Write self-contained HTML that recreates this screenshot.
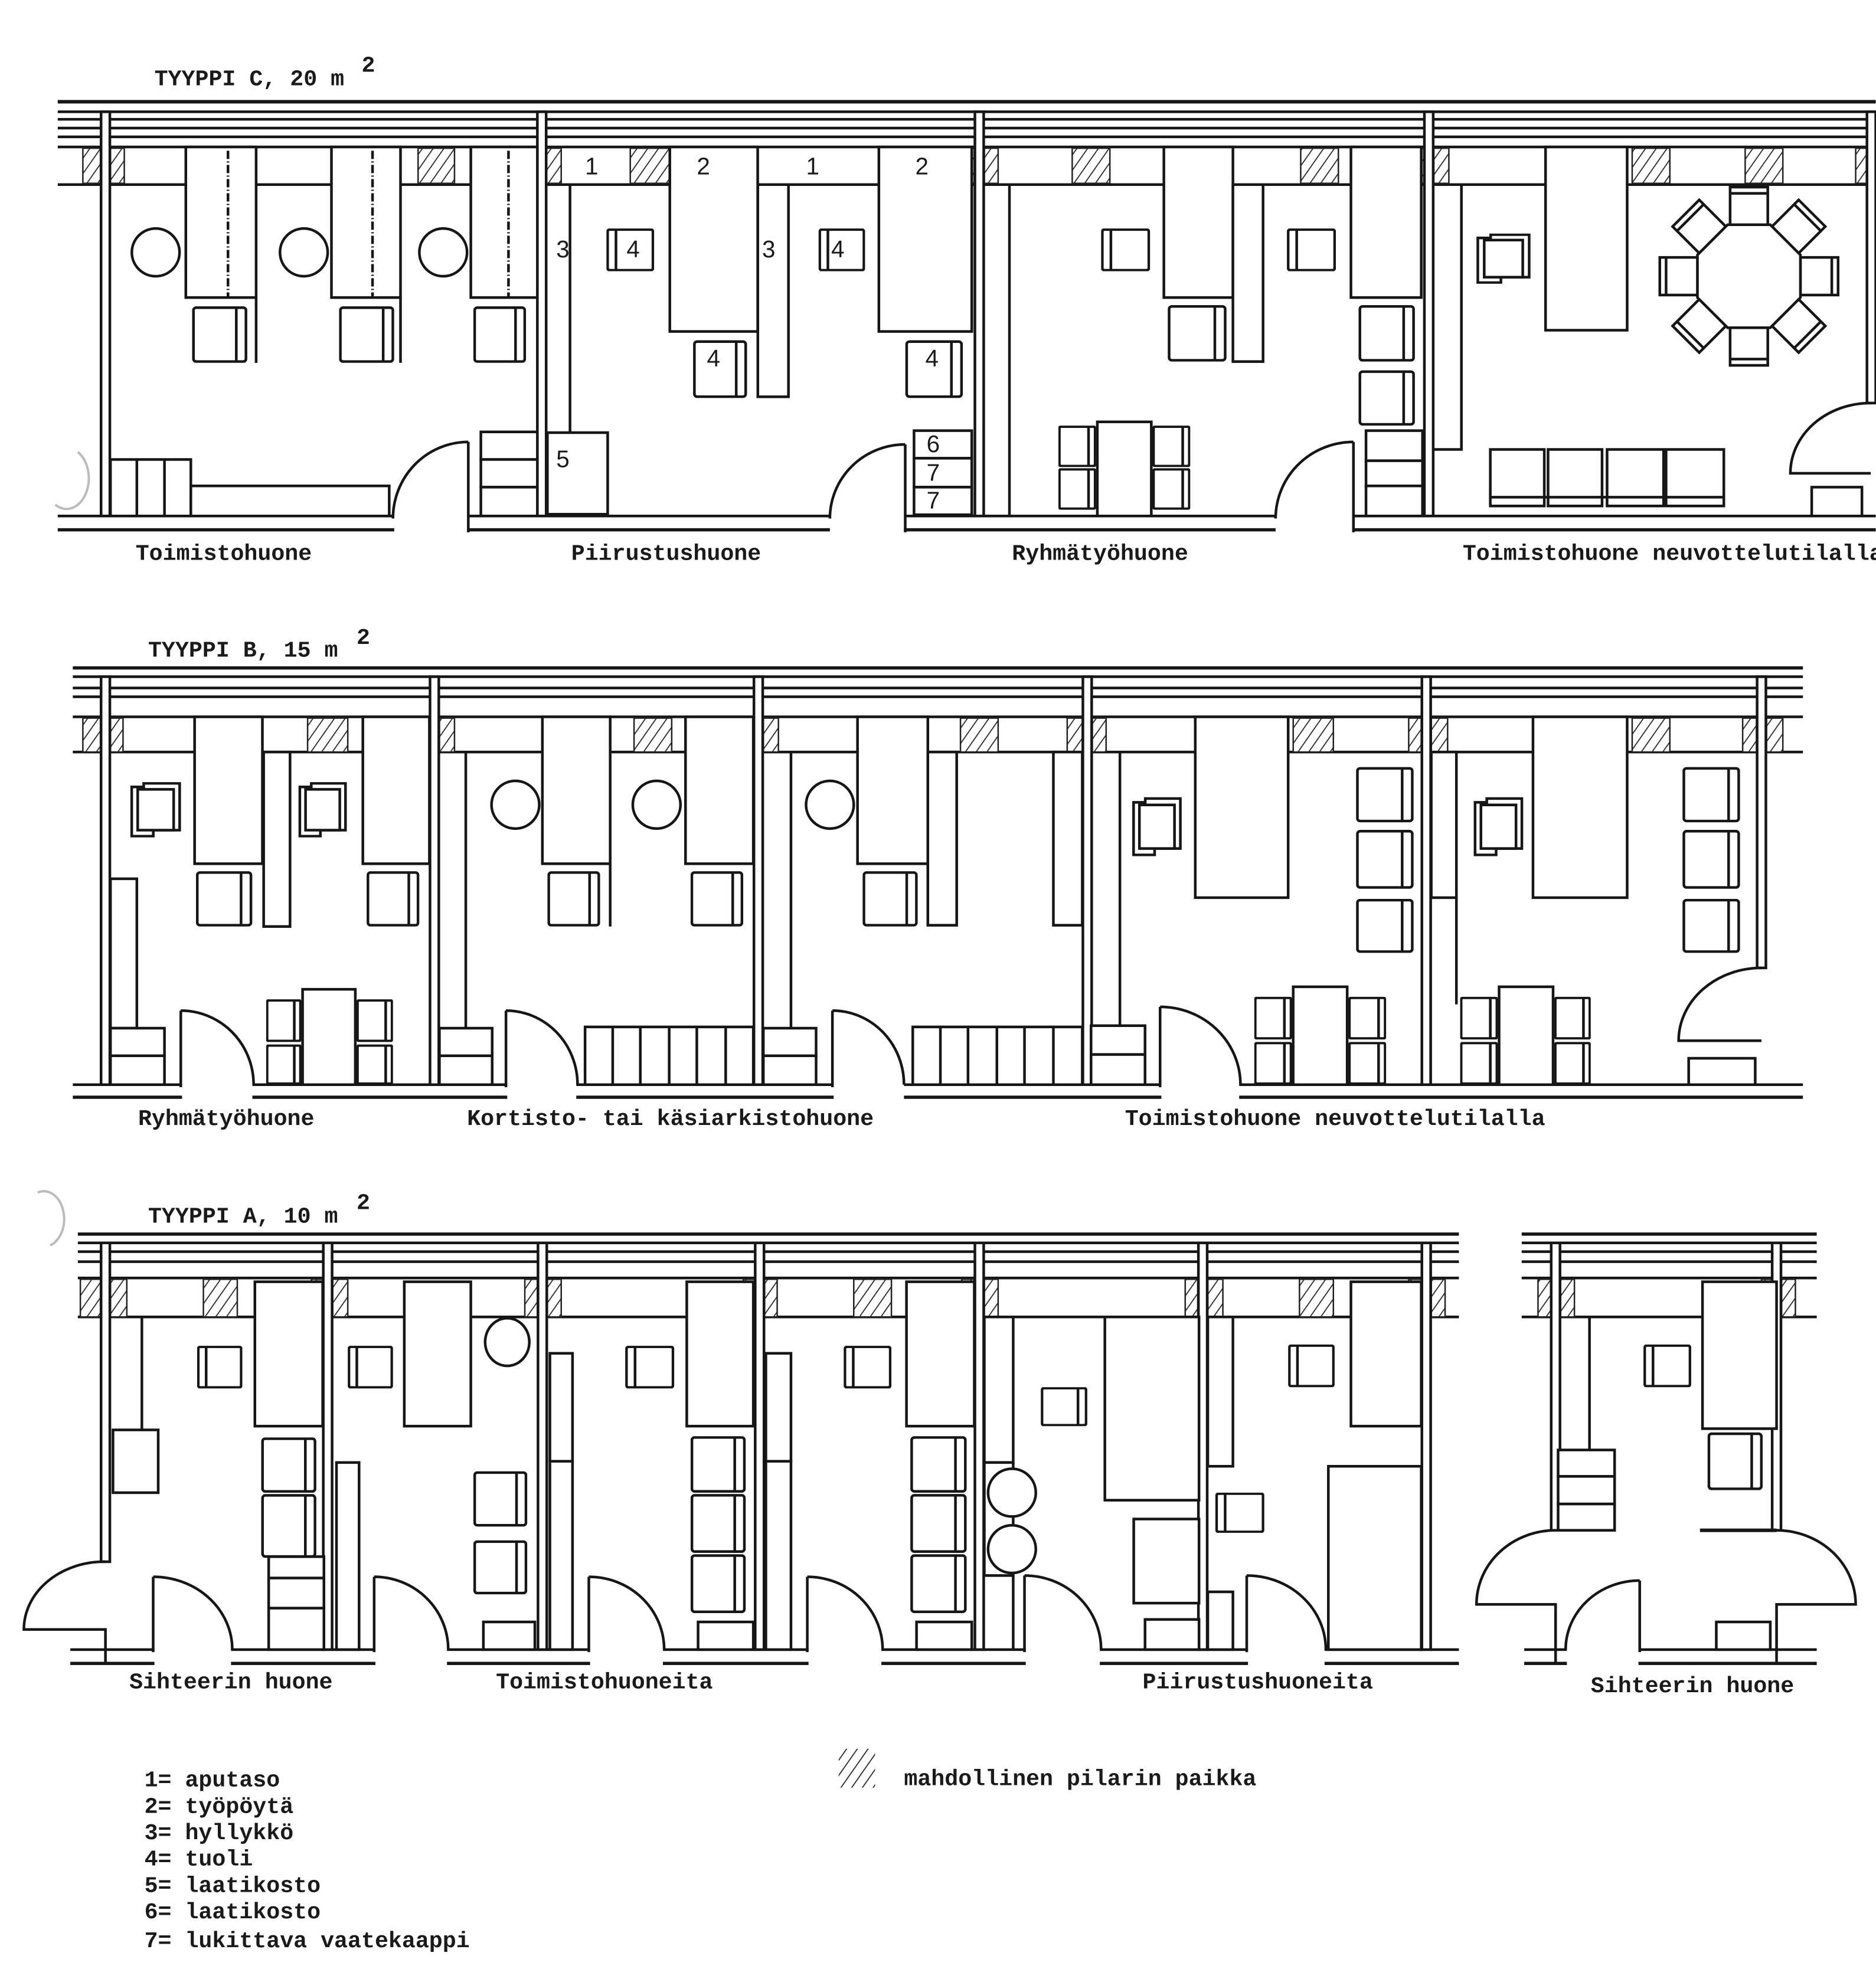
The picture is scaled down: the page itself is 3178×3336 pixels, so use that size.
<!DOCTYPE html>
<html><head><meta charset="utf-8"><style>
html,body{margin:0;padding:0;background:#fff}
svg{display:block}
svg *{vector-effect:non-scaling-stroke}
.s{fill:#fff;stroke:#161616;stroke-width:4.5}
.n{fill:none;stroke:#161616;stroke-width:4.5}
.t{font-family:"Liberation Mono",monospace;font-weight:bold;font-size:18px;fill:#1a1a1a}
.num{font-family:"Liberation Sans",sans-serif;font-size:19px;fill:#1a1a1a}
</style></head><body>
<svg width="3178" height="3336" viewBox="0 0 1494.2 1568.4" xmlns="http://www.w3.org/2000/svg">
<defs>
<pattern id="h" patternUnits="userSpaceOnUse" width="7" height="7" patternTransform="rotate(35)"><rect width="7" height="7" fill="#fff"/><line x1="0" y1="0" x2="0" y2="7" stroke="#222" stroke-width="3.5"/></pattern>
<symbol id="c" viewBox="0 0 40 44" preserveAspectRatio="none"><rect x="1" y="1" width="38" height="42" rx="2" class="s"/><line x1="32" y1="1" x2="32" y2="43" class="n"/></symbol>
<symbol id="a" viewBox="0 0 44 46" preserveAspectRatio="none"><path d="M2,4 H12 V1 H42 V40 H20 V45 H2 Z" class="s"/><rect x="7" y="6" width="30" height="34" class="s"/></symbol>
</defs>
<rect width="1494.2" height="1568.4" fill="#fff"/>

<!-- ================= ROW C ================= -->
<text x="123" y="68" class="t">TYYPPI C, 20 m</text><text x="288" y="57" class="t">2</text>
<g class="n">
<line x1="46" y1="81" x2="1494" y2="81" style="stroke-width:6"/>
<line x1="46" y1="89" x2="1494" y2="89"/><line x1="46" y1="95" x2="1494" y2="95"/>
<line x1="46" y1="102" x2="1494" y2="102"/><line x1="46" y1="109" x2="1494" y2="109"/>
<line x1="46" y1="117" x2="1494" y2="117"/><line x1="46" y1="147" x2="1494" y2="147"/>
<line x1="46" y1="411" x2="1494" y2="411"/><line x1="46" y1="422" x2="1494" y2="422" style="stroke-width:5.5"/>
</g>
<g fill="url(#h)" stroke="#222" stroke-width="2.5">
<rect x="66" y="118" width="14" height="28"/><rect x="88" y="118" width="11" height="28"/>
<rect x="333" y="118" width="29" height="28"/><rect x="418" y="118" width="10" height="28"/>
<rect x="435" y="118" width="12" height="28"/><rect x="502" y="118" width="32" height="28"/>
<rect x="762" y="118" width="14" height="28"/><rect x="784" y="118" width="11" height="28"/>
<rect x="854" y="118" width="30" height="28"/><rect x="1036" y="118" width="30" height="28"/>
<rect x="1122" y="118" width="12" height="28"/><rect x="1142" y="118" width="12" height="28"/>
<rect x="1300" y="118" width="30" height="28"/><rect x="1390" y="118" width="30" height="28"/>
<rect x="1478" y="118" width="9" height="28"/>
</g>
<g class="s">
<rect x="80.5" y="89" width="7" height="322"/><rect x="428" y="89" width="7" height="322"/>
<rect x="776.5" y="89" width="7" height="322"/><rect x="1134.5" y="89" width="7" height="322"/>
<rect x="1487" y="89" width="7" height="232"/>
</g>
<g fill="#fff"><rect x="314" y="405" width="58" height="22"/><rect x="661" y="405" width="59" height="22"/><rect x="1016" y="405" width="61" height="22"/></g>
<g class="n">
<path d="M373,352 V424 M313,413 A60,61 0 0 1 373,352"/>
<path d="M721,354 V424 M661,413 A60,59 0 0 1 721,354"/>
<path d="M1078,352 V424 M1016,413 A62,61 0 0 1 1078,352"/>
<path d="M1490,321 A64,56 0 0 0 1426,377 H1490"/>
</g>
<g class="s">
<rect x="148" y="117" width="56" height="120"/><rect x="264" y="117" width="55" height="120"/><rect x="375" y="117" width="53" height="120"/>
<circle cx="124" cy="201" r="19"/><circle cx="242" cy="201" r="19"/><circle cx="353" cy="201" r="19"/>
<rect x="88" y="366" width="64" height="45"/><rect x="152" y="387" width="158" height="24"/>
<rect x="383" y="344" width="45" height="22"/><rect x="383" y="366" width="45" height="22"/><rect x="383" y="388" width="45" height="23"/>
</g>
<g class="n"><line x1="109" y1="366" x2="109" y2="411"/><line x1="131" y1="366" x2="131" y2="411"/>
<line x1="204" y1="237" x2="204" y2="289"/><line x1="319" y1="237" x2="319" y2="289"/>
<g stroke-dasharray="14,4,2,4"><line x1="181.6" y1="120" x2="181.6" y2="237"/><line x1="296.7" y1="120" x2="296.7" y2="237"/><line x1="405" y1="120" x2="405" y2="237"/></g></g>
<use href="#c" x="153" y="244" width="44" height="45"/><use href="#c" x="270" y="244" width="44" height="45"/><use href="#c" x="377" y="244" width="42" height="45"/>
<g class="s">
<rect x="533.5" y="117" width="70" height="147"/><rect x="603.6" y="147" width="24.4" height="169"/>
<rect x="700" y="117" width="74" height="147"/>
<rect x="436" y="344.6" width="48" height="65"/>
<rect x="728" y="343" width="46" height="22"/><rect x="728" y="365" width="46" height="23"/><rect x="728" y="388" width="46" height="22"/>
</g>
<line x1="454" y1="147" x2="454" y2="344" class="n"/>
<use href="#c" x="483" y="182" width="38" height="34" transform="translate(1004,0) scale(-1,1)"/>
<use href="#c" x="652" y="182" width="37" height="34" transform="translate(1341,0) scale(-1,1)"/>
<use href="#c" x="552" y="271" width="43" height="46"/><use href="#c" x="721" y="271" width="46" height="46"/>
<g class="num"><text x="466" y="139">1</text><text x="555" y="139">2</text><text x="642" y="139">1</text><text x="729" y="139">2</text>
<text x="443" y="205">3</text><text x="607" y="205">3</text><text x="499" y="205">4</text><text x="662" y="205">4</text>
<text x="563" y="292">4</text><text x="737" y="292">4</text><text x="443" y="372">5</text>
<text x="738" y="360">6</text><text x="738" y="383">7</text><text x="738" y="405">7</text></g>
<g class="s">
<rect x="927" y="117" width="55" height="120"/><rect x="982" y="147" width="24" height="141"/><rect x="1076" y="117" width="56" height="120"/>
<rect x="1088" y="343" width="45" height="24"/><rect x="1088" y="367" width="45" height="20"/><rect x="1088" y="387" width="45" height="24"/>
<rect x="874" y="336" width="43" height="75"/>
</g>
<line x1="804" y1="147" x2="804" y2="411" class="n"/>
<use href="#c" x="877" y="182" width="39" height="34" transform="translate(1793,0) scale(-1,1)"/>
<use href="#c" x="1025" y="182" width="39" height="34" transform="translate(2089,0) scale(-1,1)"/>
<use href="#c" x="930" y="243" width="47" height="45"/><use href="#c" x="1082" y="243" width="45" height="45"/><use href="#c" x="1082" y="295" width="45" height="44"/>
<use href="#c" x="843" y="339" width="30" height="33"/><use href="#c" x="843" y="373" width="30" height="33"/>
<use href="#c" x="918" y="339" width="30" height="33"/><use href="#c" x="918" y="373" width="30" height="33"/>
<g class="s">
<rect x="1231" y="117" width="65" height="146"/>
<rect x="1443" y="388" width="40" height="23"/>
</g>
<path d="M1164,147 V358 H1141" class="n"/>
<use href="#a" x="1175" y="186" width="45" height="40"/>
<g transform="translate(1393,220)">
<g id="oc"><rect x="-15" y="-71" width="30" height="30" class="s"/><line x1="-15" y1="-66" x2="15" y2="-66" class="n"/></g>
<use href="#oc" transform="rotate(45)"/><use href="#oc" transform="rotate(90)"/><use href="#oc" transform="rotate(135)"/>
<use href="#oc" transform="rotate(180)"/><use href="#oc" transform="rotate(225)"/><use href="#oc" transform="rotate(270)"/><use href="#oc" transform="rotate(315)"/>
<polygon points="-17,-41 17,-41 41,-17 41,17 17,41 -17,41 -41,17 -41,-17" class="s"/>
</g>
<g class="s"><rect x="1187" y="358" width="43" height="45"/><rect x="1233" y="358" width="43" height="45"/><rect x="1280" y="358" width="45" height="45"/><rect x="1327" y="358" width="46" height="45"/></g>
<g class="n"><line x1="1187" y1="396" x2="1373" y2="396"/></g>
<g class="t"><text x="108" y="446">Toimistohuone</text><text x="455" y="446">Piirustushuone</text><text x="806" y="446">Ryhmätyöhuone</text><text x="1165" y="446">Toimistohuone neuvottelutilalla</text></g>

<!-- ================= ROW B ================= -->
<text x="118" y="523" class="t">TYYPPI B, 15 m</text><text x="284" y="513" class="t">2</text>
<g class="n">
<line x1="58" y1="532" x2="1436" y2="532" style="stroke-width:5.5"/>
<line x1="58" y1="539" x2="1436" y2="539"/><line x1="58" y1="548" x2="1436" y2="548"/><line x1="58" y1="555" x2="1436" y2="555"/>
<line x1="58" y1="571" x2="1436" y2="571"/><line x1="58" y1="599" x2="1436" y2="599"/>
<line x1="58" y1="864" x2="1436" y2="864"/><line x1="58" y1="874" x2="1436" y2="874" style="stroke-width:5.5"/>
</g>
<g fill="url(#h)" stroke="#222" stroke-width="2.5">
<rect x="66" y="572" width="14" height="27"/><rect x="88" y="572" width="10" height="27"/>
<rect x="245" y="572" width="32" height="27"/><rect x="332" y="572" width="10" height="27"/><rect x="350" y="572" width="12" height="27"/>
<rect x="505" y="572" width="30" height="27"/><rect x="590" y="572" width="10" height="27"/><rect x="608" y="572" width="12" height="27"/>
<rect x="765" y="572" width="30" height="27"/><rect x="850" y="572" width="12" height="27"/><rect x="870" y="572" width="11" height="27"/>
<rect x="1030" y="572" width="32" height="27"/><rect x="1122" y="572" width="10" height="27"/><rect x="1140" y="572" width="13" height="27"/>
<rect x="1300" y="572" width="30" height="27"/><rect x="1388" y="572" width="11" height="27"/><rect x="1407" y="572" width="13" height="27"/>
</g>
<g class="s">
<rect x="80.5" y="539" width="7" height="325"/><rect x="342.5" y="539" width="7" height="325"/><rect x="600.5" y="539" width="7" height="325"/>
<rect x="862.5" y="539" width="7" height="325"/><rect x="1132.5" y="539" width="7" height="325"/><rect x="1399.5" y="539" width="7" height="232"/>
</g>
<g fill="#fff"><rect x="145" y="858" width="56" height="20"/><rect x="404" y="858" width="55" height="20"/><rect x="664" y="858" width="56" height="20"/><rect x="925" y="858" width="62" height="20"/></g>
<g class="n">
<path d="M144,805 V866 M144,805 A58,59 0 0 1 202,864"/>
<path d="M403,805 V866 M403,805 A57,59 0 0 1 460,864"/>
<path d="M663,805 V866 M663,805 A57,59 0 0 1 720,864"/>
<path d="M924,802 V866 M924,802 A64,62 0 0 1 988,864"/>
<path d="M1403,771 A66,58 0 0 0 1337,829 H1403"/>
</g>
<g class="s">
<rect x="155" y="571" width="54" height="117"/><rect x="210" y="599" width="21" height="139"/><rect x="289" y="571" width="53" height="117"/>
<rect x="88" y="700" width="21" height="119"/><rect x="88" y="819" width="43" height="22"/><rect x="88" y="841" width="43" height="23"/>
<rect x="241" y="788" width="42" height="76"/>
</g>
<use href="#a" x="103" y="623" width="42" height="44"/><use href="#a" x="237" y="623" width="40" height="44"/>
<use href="#c" x="156" y="694" width="45" height="44"/><use href="#c" x="292" y="694" width="42" height="44"/>
<use href="#c" x="212" y="796" width="28" height="34"/><use href="#c" x="212" y="832" width="28" height="32"/>
<use href="#c" x="284" y="796" width="29" height="34"/><use href="#c" x="284" y="832" width="29" height="32"/>
<g class="s">
<rect x="432" y="571" width="54" height="117"/><rect x="546" y="571" width="54" height="117"/>
<circle cx="410.5" cy="641" r="19"/><circle cx="523" cy="641" r="19"/>
<rect x="350" y="819" width="42" height="22"/><rect x="350" y="841" width="42" height="23"/>
<rect x="466" y="818" width="134" height="46"/>
</g>
<g class="n"><line x1="371" y1="599" x2="371" y2="819"/><line x1="486" y1="688" x2="486" y2="738"/>
<line x1="488" y1="818" x2="488" y2="864"/><line x1="510" y1="818" x2="510" y2="864"/><line x1="533" y1="818" x2="533" y2="864"/><line x1="555" y1="818" x2="555" y2="864"/><line x1="578" y1="818" x2="578" y2="864"/></g>
<use href="#c" x="436" y="694" width="42" height="44"/><use href="#c" x="550" y="694" width="42" height="44"/>
<g class="s">
<rect x="683" y="571" width="56" height="117"/><rect x="739" y="599" width="23" height="138"/><rect x="839" y="599" width="23" height="138"/>
<circle cx="661" cy="641" r="19"/>
<rect x="608" y="819" width="42" height="22"/><rect x="608" y="841" width="42" height="23"/>
<rect x="727" y="818" width="135" height="46"/>
</g>
<g class="n"><line x1="630" y1="599" x2="630" y2="819"/>
<line x1="749" y1="818" x2="749" y2="864"/><line x1="771" y1="818" x2="771" y2="864"/><line x1="794" y1="818" x2="794" y2="864"/><line x1="816" y1="818" x2="816" y2="864"/><line x1="839" y1="818" x2="839" y2="864"/></g>
<use href="#c" x="687" y="694" width="44" height="44"/>
<g class="s">
<rect x="952" y="571" width="74" height="144"/>
<rect x="869" y="817" width="43" height="23"/><rect x="869" y="840" width="43" height="24"/>
<rect x="1030" y="786" width="43" height="78"/>
</g>
<line x1="892" y1="599" x2="892" y2="817" class="n"/>
<use href="#a" x="901" y="635" width="41" height="47"/>
<use href="#c" x="1080" y="611" width="46" height="44"/><use href="#c" x="1080" y="661" width="46" height="47"/><use href="#c" x="1080" y="716" width="46" height="43"/>
<use href="#c" x="999" y="794" width="30" height="34"/><use href="#c" x="999" y="830" width="30" height="34"/>
<use href="#c" x="1074" y="794" width="30" height="34"/><use href="#c" x="1074" y="830" width="30" height="34"/>
<g class="s">
<rect x="1221" y="571" width="75" height="144"/><rect x="1140" y="599" width="20" height="116"/>
<rect x="1194" y="786" width="43" height="78"/><rect x="1345" y="843" width="53" height="21"/>
</g>
<line x1="1160" y1="715" x2="1160" y2="800" class="n"/>
<use href="#a" x="1173" y="635" width="41" height="47"/>
<use href="#c" x="1340" y="611" width="46" height="44"/><use href="#c" x="1340" y="661" width="46" height="47"/><use href="#c" x="1340" y="716" width="46" height="43"/>
<use href="#c" x="1163" y="794" width="30" height="34"/><use href="#c" x="1163" y="830" width="30" height="34"/>
<use href="#c" x="1238" y="794" width="29" height="34"/><use href="#c" x="1238" y="830" width="29" height="34"/>
<g class="t"><text x="110" y="896">Ryhmätyöhuone</text><text x="372" y="896">Kortisto- tai käsiarkistohuone</text><text x="896" y="896">Toimistohuone neuvottelutilalla</text></g>

<!-- ================= ROW A ================= -->
<text x="118" y="974" class="t">TYYPPI A, 10 m</text><text x="284" y="963" class="t">2</text>
<g class="n">
<line x1="62" y1="983" x2="1162" y2="983" style="stroke-width:5.5"/>
<line x1="62" y1="990" x2="1162" y2="990"/><line x1="62" y1="997" x2="1162" y2="997"/><line x1="62" y1="1005" x2="1162" y2="1005"/>
<line x1="62" y1="1018" x2="1162" y2="1018"/><line x1="62" y1="1049" x2="1162" y2="1049"/>
<line x1="56" y1="1314" x2="1162" y2="1314"/><line x1="56" y1="1325" x2="1162" y2="1325" style="stroke-width:5.5"/>
<line x1="1212" y1="983" x2="1447" y2="983" style="stroke-width:5.5"/>
<line x1="1212" y1="990" x2="1447" y2="990"/><line x1="1212" y1="997" x2="1447" y2="997"/><line x1="1212" y1="1005" x2="1447" y2="1005"/>
<line x1="1212" y1="1018" x2="1447" y2="1018"/><line x1="1212" y1="1049" x2="1447" y2="1049"/>
<line x1="1214" y1="1314" x2="1447" y2="1314"/><line x1="1214" y1="1325" x2="1447" y2="1325" style="stroke-width:5.5"/>
</g>
<g fill="url(#h)" stroke="#222" stroke-width="2.5">
<rect x="64" y="1019" width="16" height="30"/><rect x="88" y="1019" width="13" height="30"/><rect x="162" y="1019" width="27" height="30"/>
<rect x="248" y="1019" width="9" height="30"/><rect x="265" y="1019" width="12" height="30"/>
<rect x="418" y="1019" width="10" height="30"/><rect x="436" y="1019" width="11" height="30"/>
<rect x="592" y="1019" width="9" height="30"/><rect x="609" y="1019" width="10" height="30"/>
<rect x="680" y="1019" width="30" height="30"/>
<rect x="766" y="1019" width="10" height="30"/><rect x="784" y="1019" width="11" height="30"/>
<rect x="944" y="1019" width="10" height="30"/><rect x="962" y="1019" width="12" height="30"/>
<rect x="1035" y="1019" width="27" height="30"/>
<rect x="1122" y="1019" width="10" height="30"/><rect x="1140" y="1019" width="11" height="30"/>
<rect x="1225" y="1019" width="11" height="30"/><rect x="1243" y="1019" width="11" height="30"/>
<rect x="1403" y="1019" width="9" height="30"/><rect x="1419" y="1019" width="11" height="30"/>
</g>
<g class="s">
<rect x="80.5" y="990" width="7" height="254"/><rect x="257.5" y="990" width="7" height="324"/><rect x="428.5" y="990" width="7" height="324"/>
<rect x="601.5" y="990" width="7" height="324"/><rect x="776.5" y="990" width="7" height="324"/><rect x="954.5" y="990" width="7" height="324"/>
<rect x="1132.5" y="990" width="7" height="324"/>
<rect x="1235.5" y="990" width="7" height="229"/><rect x="1411.5" y="990" width="7" height="229"/>
</g>
<g fill="#fff"><rect x="123" y="1308" width="61" height="20"/><rect x="299" y="1308" width="57" height="20"/><rect x="470" y="1308" width="58" height="20"/>
<rect x="644" y="1308" width="58" height="20"/><rect x="817" y="1308" width="59" height="20"/><rect x="994" y="1308" width="61" height="20"/><rect x="1248" y="1308" width="57" height="20"/></g>
<g class="n">
<path d="M84,1244 A64,54 0 0 0 19,1298 H84 V1325"/>
<path d="M122,1256 V1316 M122,1256 A63,58 0 0 1 185,1314"/>
<path d="M298,1256 V1316 M298,1256 A59,58 0 0 1 357,1314"/>
<path d="M469,1256 V1316 M469,1256 A60,58 0 0 1 529,1314"/>
<path d="M643,1256 V1316 M643,1256 A60,58 0 0 1 703,1314"/>
<path d="M816,1255 V1316 M816,1255 A61,59 0 0 1 877,1314"/>
<path d="M993,1255 V1316 M993,1255 A63,59 0 0 1 1056,1314"/>
<path d="M1239,1219 A63,59 0 0 0 1176,1278 H1239 V1325"/>
<path d="M1415,1219 A63,59 0 0 1 1478,1278 H1415 V1325"/>
<path d="M1306,1259 V1316 M1247,1314 A59,55 0 0 1 1306,1259"/>
</g>
<g class="s">
<rect x="203" y="1021" width="54" height="115"/><rect x="90" y="1139" width="36" height="50"/>
<rect x="214" y="1240" width="44" height="17"/><rect x="214" y="1257" width="44" height="24"/><rect x="214" y="1281" width="44" height="33"/>
</g>
<line x1="113" y1="1049" x2="113" y2="1139" class="n"/>
<use href="#c" x="157" y="1072" width="36" height="34" transform="translate(350,0) scale(-1,1)"/>
<use href="#c" x="208" y="1145" width="44" height="44"/><use href="#c" x="208" y="1190" width="44" height="51"/>
<g class="s">
<rect x="322" y="1021" width="53" height="115"/><ellipse cx="404" cy="1069" rx="17.6" ry="19"/>
<rect x="268" y="1165" width="18" height="149"/><rect x="385" y="1292" width="41" height="22"/>
</g>
<use href="#c" x="277" y="1072" width="36" height="34" transform="translate(590,0) scale(-1,1)"/>
<use href="#c" x="377" y="1172" width="43" height="44"/><use href="#c" x="377" y="1227" width="43" height="43"/>
<g class="s">
<rect x="547" y="1021" width="53" height="115"/><rect x="438" y="1078" width="18" height="86"/><rect x="438" y="1164" width="18" height="150"/>
<rect x="556" y="1292" width="44" height="22"/>
</g>
<use href="#c" x="498" y="1072" width="39" height="34" transform="translate(1035,0) scale(-1,1)"/>
<use href="#c" x="550" y="1144" width="44" height="45"/><use href="#c" x="550" y="1190" width="44" height="47"/><use href="#c" x="550" y="1238" width="44" height="47"/>
<g class="s">
<rect x="722" y="1021" width="54" height="115"/><rect x="610" y="1078" width="20" height="86"/><rect x="610" y="1164" width="20" height="150"/>
<rect x="730" y="1292" width="44" height="22"/>
</g>
<use href="#c" x="672" y="1072" width="38" height="34" transform="translate(1382,0) scale(-1,1)"/>
<use href="#c" x="725" y="1144" width="45" height="45"/><use href="#c" x="725" y="1190" width="45" height="47"/><use href="#c" x="725" y="1238" width="45" height="47"/>
<g class="s">
<rect x="784" y="1049" width="23" height="116"/><rect x="784" y="1165" width="23" height="90"/>
<circle cx="806" cy="1189" r="19"/><circle cx="806" cy="1234" r="19"/>
<rect x="880" y="1049" width="75" height="146"/><rect x="903" y="1210" width="52" height="67"/><rect x="912" y="1290" width="43" height="24"/>
</g>
<line x1="807" y1="1255" x2="807" y2="1314" class="n"/>
<use href="#c" x="829" y="1105" width="37" height="31"/>
<g class="s">
<rect x="962" y="1049" width="20" height="119"/><rect x="962" y="1268" width="20" height="46"/>
<rect x="1076" y="1021" width="56" height="115"/><rect x="1058" y="1168" width="74" height="146"/>
</g>
<use href="#c" x="1026" y="1071" width="37" height="34" transform="translate(2089,0) scale(-1,1)"/>
<use href="#c" x="968" y="1189" width="39" height="32" transform="translate(1975,0) scale(-1,1)"/>
<g class="s">
<rect x="1356" y="1021" width="59" height="117"/>
<rect x="1241" y="1155" width="45" height="21"/><rect x="1241" y="1176" width="45" height="22"/><rect x="1241" y="1198" width="45" height="21"/>
<rect x="1367" y="1292" width="43" height="22"/>
</g>
<g class="n"><line x1="1266" y1="1049" x2="1266" y2="1155"/><line x1="1354" y1="1219" x2="1415" y2="1219" style="stroke-width:6"/></g>
<use href="#c" x="1309" y="1071" width="38" height="34" transform="translate(2656,0) scale(-1,1)"/>
<use href="#c" x="1360" y="1141" width="44" height="46"/>
<g class="t"><text x="103" y="1345">Sihteerin huone</text><text x="395" y="1345">Toimistohuoneita</text><text x="910" y="1345">Piirustushuoneita</text><text x="1267" y="1348">Sihteerin huone</text></g>

<!-- ================= LEGEND ================= -->
<g class="t">
<text x="115" y="1423">1= aputaso</text>
<text x="115" y="1444">2= työpöytä</text>
<text x="115" y="1465">3= hyllykkö</text>
<text x="115" y="1486">4= tuoli</text>
<text x="115" y="1507">5= laatikosto</text>
<text x="115" y="1528">6= laatikosto</text>
<text x="115" y="1551">7= lukittava vaatekaappi</text>
<text x="720" y="1422">mahdollinen pilarin paikka</text>
</g>
<rect x="668" y="1393" width="29" height="31" fill="url(#h)" stroke="none"/>
<path d="M62,360 A16,22 0 0 1 44,402" fill="none" stroke="#bbb" stroke-width="4"/>
<path d="M30,950 A16,22 0 0 1 40,992" fill="none" stroke="#bbb" stroke-width="4"/>
</svg>
</body></html>
